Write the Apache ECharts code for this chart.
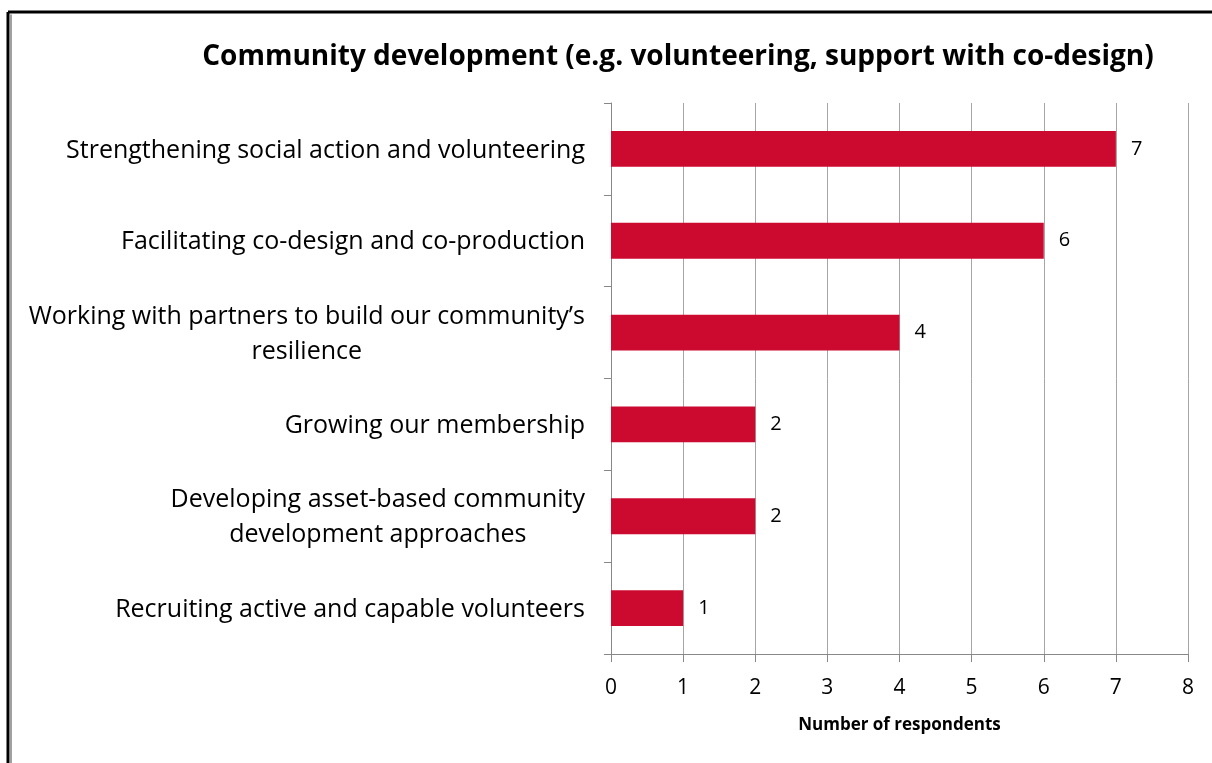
<!DOCTYPE html>
<html>
<head>
<meta charset="utf-8">
<script src="https://cdn.jsdelivr.net/npm/echarts@6/dist/echarts.min.js"></script>
<style>html,body{margin:0;padding:0;background:#fff;}#c{width:1212px;height:763px;}</style>
</head>
<body>
<div id="c"></div>
<script>
var categories = [
  "Strengthening social action and volunteering",
  "Facilitating co-design and co-production",
  "Working with partners to build our community\u2019s\nresilience",
  "Growing our membership",
  "Developing asset-based community\ndevelopment approaches",
  "Recruiting active and capable volunteers"
];
var values = [7, 6, 4, 2, 2, 1];
var xTicks = [0, 1, 2, 3, 4, 5, 6, 7, 8];
var titleText = "Community development (e.g. volunteering, support with co-design)";
var xAxisName = "Number of respondents";

var chart = echarts.init(document.getElementById('c'));
var FONT = 'Open Sans';
chart.setOption({
  animation: false,
  backgroundColor: '#fff',
  textStyle: { fontFamily: FONT },
  title: {
    text: titleText,
    left: 673, top: 38, textAlign: 'center',
    textStyle: { fontFamily: FONT, fontSize: 28, fontWeight: 'bold', color: '#000' }
  },
  graphic: [
    { type: 'line', shape: { x1: 8, y1: 12, x2: 1212, y2: 12 }, style: { stroke: '#000', lineWidth: 3 } },
    { type: 'line', shape: { x1: 8, y1: 12, x2: 8, y2: 763 }, style: { stroke: '#000', lineWidth: 3 } },
    { type: 'line', shape: { x1: 11, y1: 14.5, x2: 11, y2: 763 }, style: { stroke: '#a0a0a0', lineWidth: 2 } }
  ],
  grid: { left: 611, right: 24, top: 103, bottom: 109, containLabel: false },
  xAxis: {
    type: 'value', min: 0, max: 8, interval: 1,
    name: xAxisName, nameLocation: 'middle', nameGap: 63,
    nameTextStyle: { fontFamily: FONT, fontSize: 17, fontWeight: 'bold', color: '#000' },
    axisLine: { show: true, lineStyle: { color: '#888', width: 1 } },
    axisTick: { show: true, length: 8, lineStyle: { color: '#888' } },
    axisLabel: { fontFamily: FONT, fontSize: 21, color: '#000', margin: 24,
      formatter: function (v) { return xTicks.indexOf(v) >= 0 ? String(v) : ''; } },
    splitLine: { show: true, lineStyle: { color: '#a6a6a6', width: 1 } }
  },
  yAxis: {
    type: 'category', data: categories, inverse: true,
    axisLine: { show: true, lineStyle: { color: '#888', width: 1 } },
    axisTick: { show: true, length: 7, alignWithLabel: false, lineStyle: { color: '#888' } },
    axisLabel: {
      fontFamily: FONT, fontSize: 25, color: '#000', margin: 26, lineHeight: 35,
      formatter: function (v) {
        return v.split('\n').map(function (s) { return '{a|' + s + '}'; }).join('\n');
      },
      rich: { a: { fontFamily: FONT, fontSize: 25, color: '#000', align: 'center', lineHeight: 35, padding: [3, 0, 0, 0] } }
    },
    splitLine: { show: false }
  },
  series: [{
    type: 'bar', data: values, barCategoryGap: '61%',
    itemStyle: { color: '#cc0a30' },
    label: { show: true, position: 'right', distance: 15, fontFamily: FONT, fontSize: 20, color: '#000' }
  }]
});
</script>
</body>
</html>
